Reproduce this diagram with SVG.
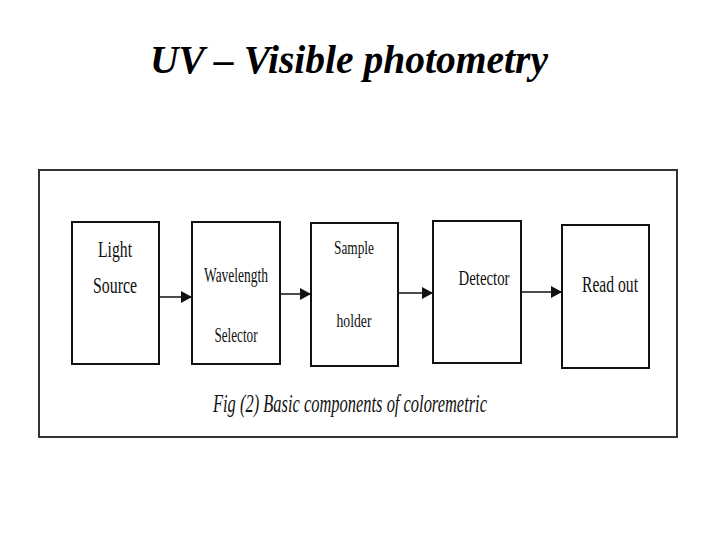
<svg xmlns="http://www.w3.org/2000/svg" width="720" height="540" viewBox="0 0 720 540">
<style>
.box{fill:#fff;stroke:#111;stroke-width:2}
.lbl{font-family:"Liberation Serif","Times New Roman",serif;fill:#111;text-anchor:middle}
.con{stroke:#111;stroke-width:1.5;fill:none}
</style>
<defs>
<marker id="ah" markerWidth="12" markerHeight="12" refX="10" refY="6" orient="auto" markerUnits="userSpaceOnUse">
<path d="M0,0 L11,6 L0,12 Z" fill="#111"/>
</marker>
</defs>
<rect width="720" height="540" fill="#fff"/>
<text x="349" y="73" font-family="Liberation Serif, Times New Roman, serif" font-size="40" font-weight="bold" font-style="italic" text-anchor="middle" textLength="398" lengthAdjust="spacingAndGlyphs" fill="#000">UV – Visible photometry</text>
<g id="frame">
<rect x="39" y="170" width="638" height="267" fill="#fff" stroke="#333" stroke-width="2"/>
</g>
<g id="connectors">
<line class="con" x1="159" y1="297" x2="191" y2="297" marker-end="url(#ah)"/>
<line class="con" x1="280" y1="294" x2="310" y2="294" stroke-width="2.5" marker-end="url(#ah)"/>
<line class="con" x1="398" y1="293" x2="432" y2="293" marker-end="url(#ah)"/>
<line class="con" x1="521" y1="292" x2="561" y2="292" marker-end="url(#ah)"/>
</g>
<g id="light-source">
<rect class="box" x="72" y="222" width="87" height="142"/>
<text class="lbl" x="115" y="257" font-size="24" textLength="34" lengthAdjust="spacingAndGlyphs">Light</text>
<text class="lbl" x="115" y="293" font-size="24" textLength="44" lengthAdjust="spacingAndGlyphs">Source</text>
</g>
<g id="wavelength-selector">
<rect class="box" x="192" y="222" width="88" height="142"/>
<text class="lbl" x="236" y="282" font-size="20" textLength="64" lengthAdjust="spacingAndGlyphs">Wavelength</text>
<text class="lbl" x="236" y="342" font-size="20" textLength="43" lengthAdjust="spacingAndGlyphs">Selector</text>
</g>
<g id="sample-holder">
<rect class="box" x="311" y="223" width="87" height="143"/>
<text class="lbl" x="354" y="254" font-size="19" textLength="40" lengthAdjust="spacingAndGlyphs">Sample</text>
<text class="lbl" x="354" y="327" font-size="19" textLength="35" lengthAdjust="spacingAndGlyphs">holder</text>
</g>
<g id="detector">
<rect class="box" x="433" y="221" width="88" height="142"/>
<text class="lbl" x="484" y="285" font-size="21" textLength="51" lengthAdjust="spacingAndGlyphs">Detector</text>
</g>
<g id="read-out">
<rect class="box" x="562" y="225" width="87" height="143"/>
<text class="lbl" x="610" y="292" font-size="24" textLength="56" lengthAdjust="spacingAndGlyphs">Read out</text>
</g>
<text x="350" y="412" font-family="Liberation Serif, Times New Roman, serif" font-size="26" font-style="italic" text-anchor="middle" textLength="274" lengthAdjust="spacingAndGlyphs" fill="#111">Fig (2) Basic components of coloremetric</text>
</svg>
